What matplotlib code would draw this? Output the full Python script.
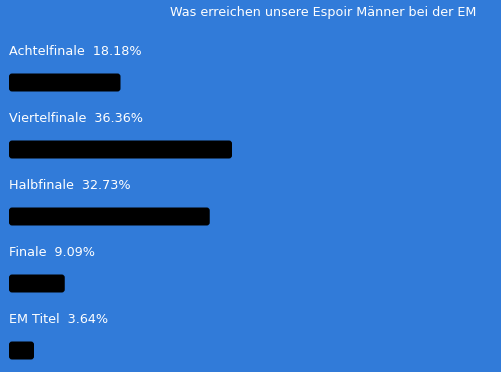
import matplotlib
matplotlib.use("Agg")
import matplotlib.pyplot as plt
from matplotlib.patches import FancyBboxPatch

# poll data
categories = ["Achtelfinale", "Viertelfinale", "Halbfinale", "Finale", "EM Titel"]
percentages = [18.18, 36.36, 32.73, 9.09, 3.64]
title = "Was erreichen unsere Espoir Männer bei der EM"

bg = "#317bd9"

fig = plt.figure(figsize=(5.01, 3.72), dpi=100, facecolor=bg)
ax = fig.add_axes([0, 0, 1, 1])
ax.set_facecolor(bg)

# pixel scale: 1 percent ~ 6.13 px, 1 row ~ 67 px
px_x = 223 / 36.36
px_y = 67.0
ax.set_xlim(-9 / px_x, (501 - 9) / px_x)
ax.set_ylim((372 - 82.5) / px_y, -82.5 / px_y)
ax.axis("off")

bars = ax.barh(range(len(categories)), percentages, height=18 / px_y, color="black")

# swap plain bars for rounded ones
for b in bars:
    x, y = b.get_x(), b.get_y()
    w, h = b.get_width(), b.get_height()
    w = max(w, 25 / px_x)
    b.remove()
    r = 3 / px_x
    patch = FancyBboxPatch((x, y), w, h,
                           boxstyle="round,pad=0,rounding_size=%f" % r,
                           mutation_aspect=px_x / px_y,
                           facecolor="black", edgecolor="none")
    ax.add_patch(patch)

for i, (cat, p) in enumerate(zip(categories, percentages)):
    ax.text(0, i - 30.5 / px_y, "%s  %.2f%%" % (cat, p), color="white",
            fontsize=9.2, va="center", ha="left")

fig.text(323 / 501, 1 - 12.5 / 372, title, color="white", fontsize=9.2,
         ha="center", va="center")

fig.savefig("out.png", dpi=100, facecolor=bg)
